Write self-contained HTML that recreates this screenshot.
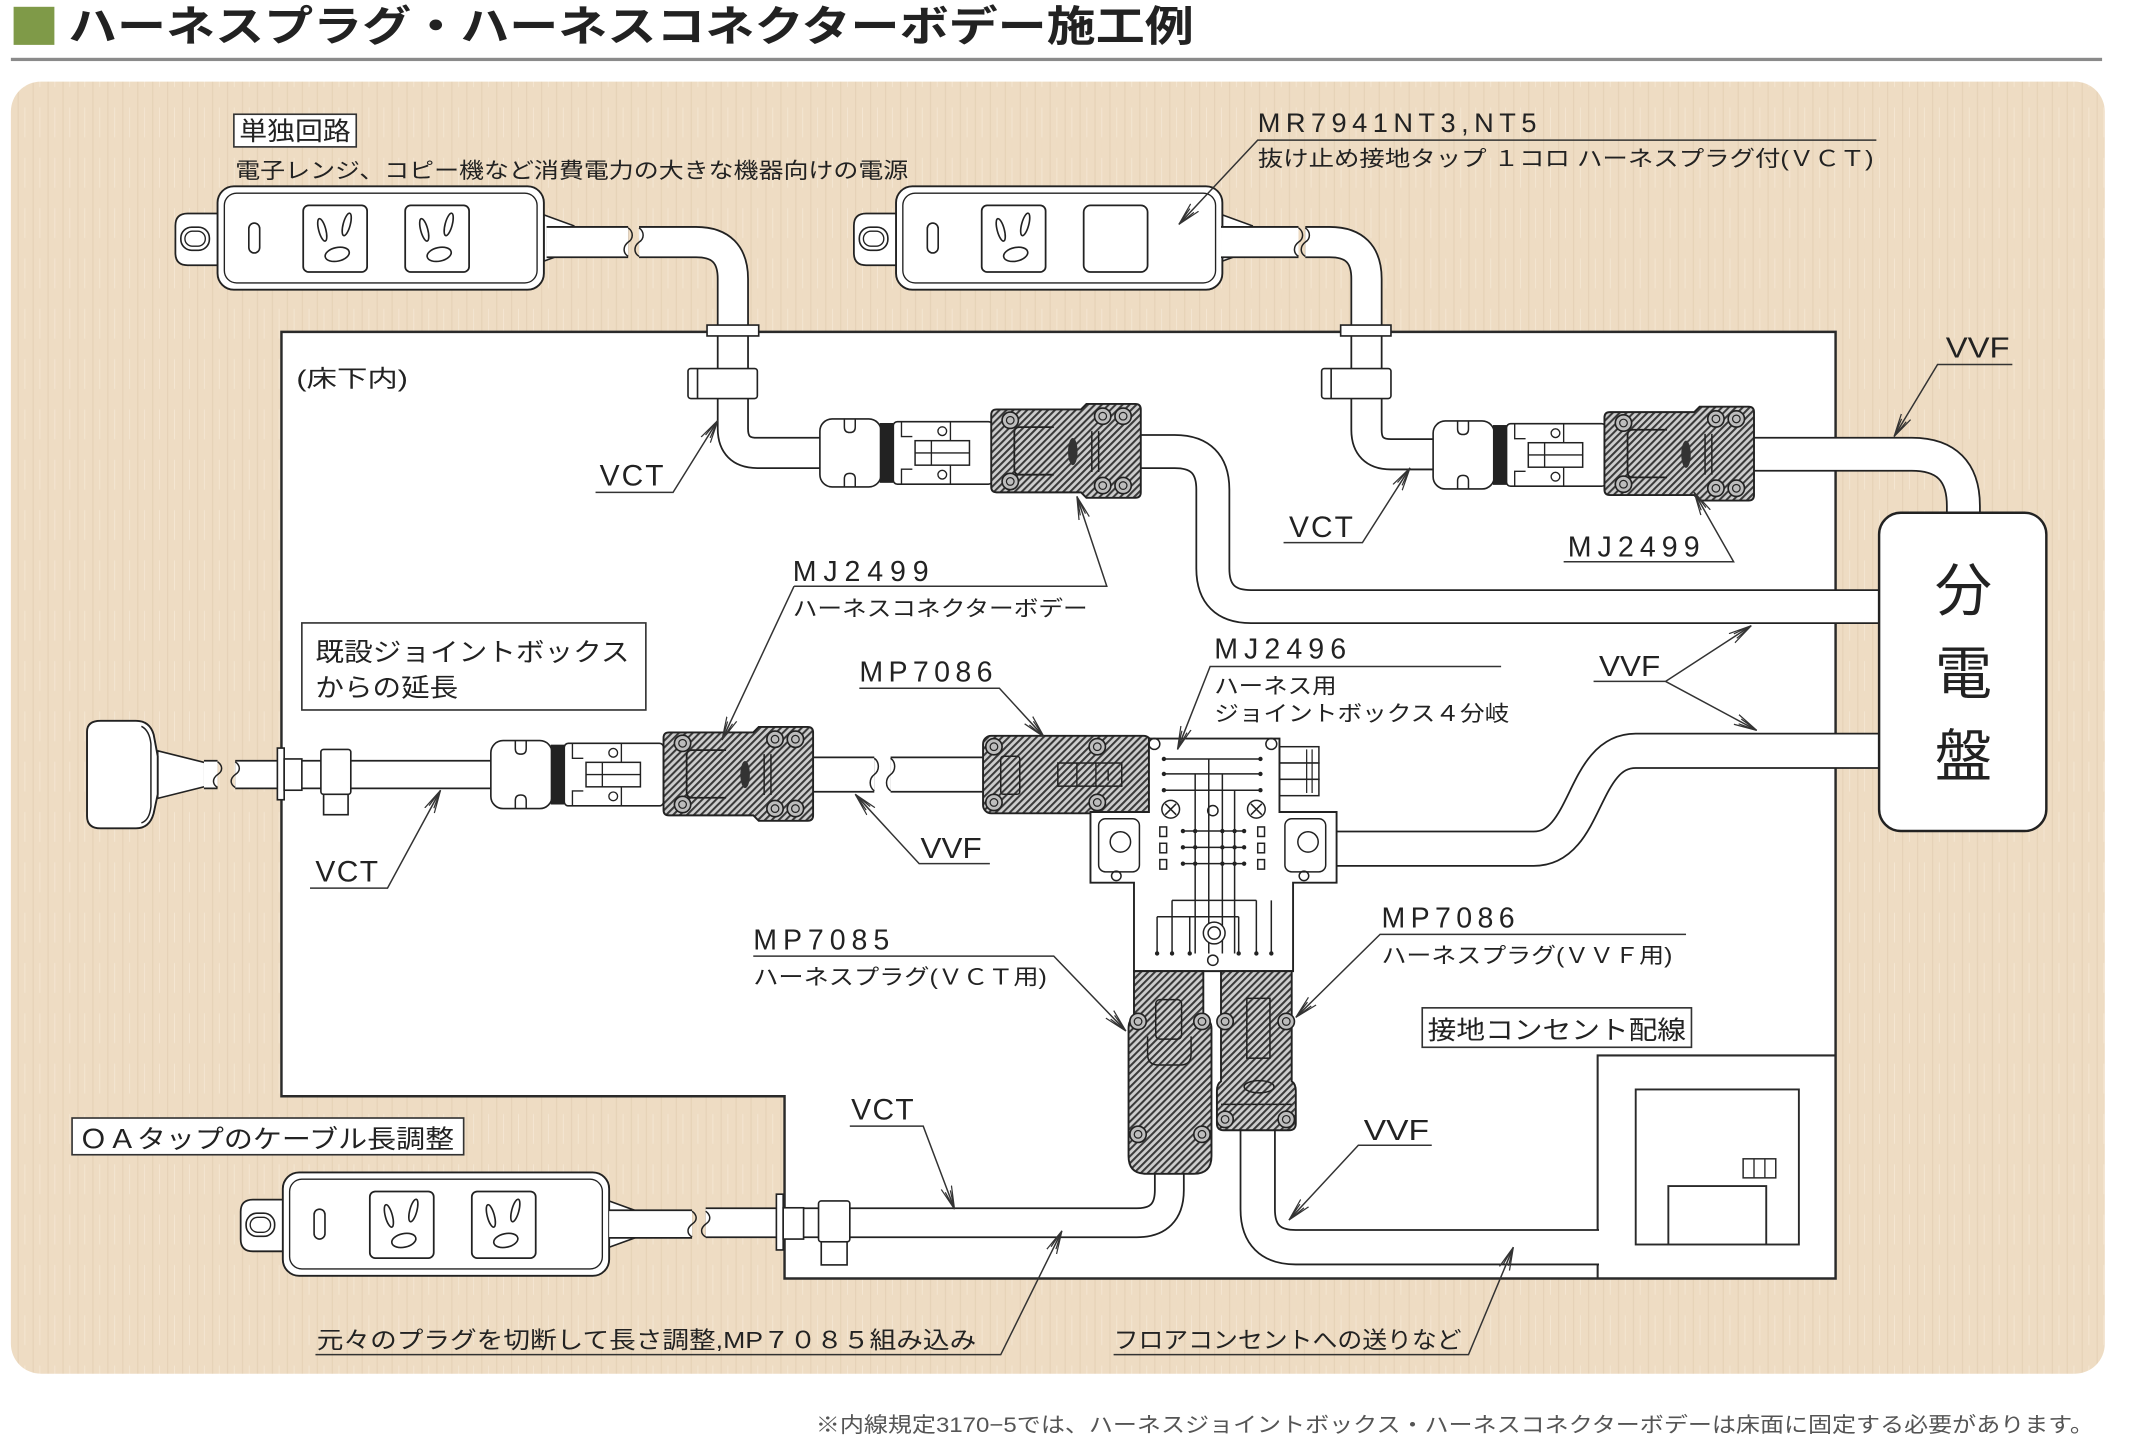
<!DOCTYPE html>
<html><head><meta charset="utf-8">
<style>
html,body{margin:0;padding:0;background:#fff;width:2132px;height:1439px;overflow:hidden}
svg{display:block}
</style></head>
<body>
<svg width="2132" height="1439" viewBox="0 0 1568 1058" preserveAspectRatio="none" xmlns="http://www.w3.org/2000/svg">
<defs>
<pattern id="hatch" width="3.6" height="3.6" patternUnits="userSpaceOnUse" patternTransform="rotate(45)"><rect width="3.6" height="3.6" fill="#cdcdcd"/><rect width="1.5" height="3.6" fill="#3a3a3a"/></pattern>
<pattern id="tex" width="11" height="37" patternUnits="userSpaceOnUse"><rect width="11" height="37" fill="#eedcc3"/><rect x="2" width="0.7" height="37" fill="#e4d0b4"/><rect x="7" y="5" width="0.6" height="22" fill="#f5e8d5"/></pattern>
<marker id="ar" markerWidth="20" markerHeight="12" refX="17" refY="6" orient="auto" markerUnits="userSpaceOnUse"><path d="M0,2 L17,6 L0,10 M3,4 L17,6 L3,8" fill="none" stroke="#333" stroke-width="0.9"/></marker>
<g id="plug">
<rect x="54" y="-23" width="73" height="46" rx="3" fill="#fff" stroke="#222" stroke-width="1.2"/>
<line x1="96" y1="-23" x2="96" y2="23" stroke="#222" stroke-width="1"/>
<circle cx="90" cy="-16" r="3.2" fill="#fff" stroke="#222" stroke-width="1"/>
<circle cx="90" cy="16" r="3.2" fill="#fff" stroke="#222" stroke-width="1"/>
<rect x="70" y="-9" width="40" height="18" fill="#fff" stroke="#222" stroke-width="1.1"/>
<line x1="70" y1="0" x2="110" y2="0" stroke="#222" stroke-width="1"/>
<line x1="82" y1="-9" x2="82" y2="9" stroke="#222" stroke-width="1"/>
<path d="M60,-23 V-12 H68 M60,23 V12 H68" fill="none" stroke="#222" stroke-width="1"/>
<rect x="0" y="-25" width="45" height="50" rx="9" fill="#fff" stroke="#222" stroke-width="1.2"/>
<path d="M18,-25 V-19 Q18,-15 22,-15 Q26,-15 26,-19 V-25 M18,25 V19 Q18,15 22,15 Q26,15 26,19 V25" fill="none" stroke="#222" stroke-width="1.1"/>
<rect x="44" y="-22" width="10" height="44" fill="#222"/>
</g>
<g id="bolt"><circle r="6" fill="#bdbdbd" stroke="#222" stroke-width="1.2"/><circle r="2.8" fill="none" stroke="#222" stroke-width="0.9"/></g>
<g id="conn">
<path d="M0,-27 Q0,-31 4,-31 H66 L70,-35 H106 Q110,-35 110,-31 V30 Q110,34 106,34 H70 L66,30 H4 Q0,30 0,26 Z" fill="url(#hatch)" stroke="#222" stroke-width="1.4"/>
<path d="M46,-18 H21 Q17,-18 17,-14 V13 Q17,17 21,17 H46" fill="none" stroke="#222" stroke-width="1.3"/>
<ellipse cx="60" cy="0" rx="3.5" ry="10" fill="#333"/>
<path d="M74,-15 V15 M79,-15 V15" stroke="#222" stroke-width="1.1"/>
<use href="#bolt" x="14" y="-23"/><use href="#bolt" x="14" y="22"/>
<use href="#bolt" x="82" y="-26"/><use href="#bolt" x="97" y="-26"/>
<use href="#bolt" x="82" y="25"/><use href="#bolt" x="97" y="25"/>
</g>
<g id="strip">
<path d="M2,20 H-22 Q-31,20 -31,29 V49 Q-31,58 -22,58 H2 Z" fill="#fff" stroke="#222" stroke-width="1.3"/>
<rect x="-27" y="30" width="21" height="17" rx="8" fill="none" stroke="#222" stroke-width="1.2"/>
<rect x="-24" y="33" width="15" height="11" rx="5.5" fill="none" stroke="#222" stroke-width="1"/>
<path d="M240,21 L262,29 V47 L240,55 Z" fill="#fff" stroke="#222" stroke-width="1.2"/>
<rect x="0" y="0" width="240" height="76" rx="12" fill="#fff" stroke="#222" stroke-width="1.4"/>
<rect x="5" y="5" width="230" height="66" rx="9" fill="none" stroke="#222" stroke-width="1"/>
<rect x="23" y="27" width="8" height="22" rx="4" fill="none" stroke="#222" stroke-width="1.2"/>
</g>
<g id="outlet">
<rect x="0" y="14" width="47" height="49" rx="4" fill="#fff" stroke="#222" stroke-width="1.3"/>
<ellipse cx="14" cy="32" rx="2.6" ry="8.5" transform="rotate(-15 14 32)" fill="#fff" stroke="#222" stroke-width="1.2"/>
<ellipse cx="32" cy="28" rx="2.6" ry="8.5" transform="rotate(15 32 28)" fill="#fff" stroke="#222" stroke-width="1.2"/>
<ellipse cx="25" cy="50" rx="9" ry="5" transform="rotate(-12 25 50)" fill="#fff" stroke="#222" stroke-width="1.2"/>
</g>
</defs>

<!-- Title -->
<rect x="10" y="5" width="30" height="28" fill="#7f9a48"/>
<text x="50" y="30" font-family="'Liberation Sans','Noto Sans CJK JP',sans-serif" font-size="31" font-weight="bold" fill="#222" textLength="828" lengthAdjust="spacingAndGlyphs">ハーネスプラグ・ハーネスコネクターボデー施工例</text>
<rect x="8" y="42.5" width="1538" height="2.4" fill="#8a8a8a"/>

<!-- beige panel -->
<rect x="8" y="60" width="1540" height="950" rx="22" fill="url(#tex)"/>

<!-- white underfloor region -->
<path d="M207,244 H1350 V940 H577 V806 H207 Z" fill="#fff" stroke="#2a2a2a" stroke-width="1.8"/>
<!-- grounded outlet box -->
<path d="M1175,940 V776 H1350" fill="none" stroke="#2a2a2a" stroke-width="1.5"/>
<rect x="1203" y="801" width="120" height="114" fill="none" stroke="#2a2a2a" stroke-width="1.4"/>
<path d="M1227,915 V872 H1299 V915" fill="none" stroke="#2a2a2a" stroke-width="1.4"/>
<rect x="1282" y="852" width="24" height="14" fill="#fff" stroke="#2a2a2a" stroke-width="1.1"/>
<path d="M1290,852 V866 M1298,852 V866" stroke="#2a2a2a" stroke-width="1"/>

<!-- power strips -->
<use href="#strip" x="160" y="137"/>
<use href="#outlet" x="223" y="137"/><use href="#outlet" x="298" y="137"/>
<use href="#strip" x="659" y="137"/>
<use href="#outlet" x="722" y="137"/>
<rect x="797" y="151" width="47" height="49" rx="5" fill="#fff" stroke="#222" stroke-width="1.3"/>
<use href="#strip" x="208" y="862"/>
<use href="#outlet" x="272" y="862"/><use href="#outlet" x="347" y="862"/>

<!-- wall plug -->
<path d="M116,552 L152,561 V578 L116,587 Z" fill="#fff" stroke="#222" stroke-width="1.2"/>
<path d="M64,538 Q64,530 74,530 H100 Q110,530 113,540 L116,556 V584 L113,598 Q110,609 100,609 H74 Q64,609 64,600 Z" fill="#fff" stroke="#222" stroke-width="1.4"/>
<path d="M104,534 Q110,537 111,547 V593 Q110,603 104,605" fill="none" stroke="#222" stroke-width="1.1"/>

<!-- cables: dark then white -->
<g fill="none" stroke="#222" stroke-linecap="butt">
<path d="M402,178 H462" stroke-width="23.6"/>
<path d="M470,178 H512 Q539,178 539,205 V315 Q539,333 557,333 H606" stroke-width="23.6"/>
<path d="M898,178 H955" stroke-width="23.6"/>
<path d="M960,178 H978 Q1005,178 1005,205 V316 Q1005,334 1023,334 H1056" stroke-width="23.6"/>
<path d="M836,332 H864 Q892,332 892,360 V418 Q892,446 920,446 H1383" stroke-width="25.6"/>
<path d="M1288,334 H1406 Q1444,334 1444,372 V380" stroke-width="25.6"/>
<path d="M981,624 H1128 C1168,624 1163,552 1203,552 H1383" stroke-width="26.6"/>
<path d="M150,569.5 H160" stroke-width="21.6"/>
<path d="M173,569.5 H364" stroke-width="21.6"/>
<path d="M592,569.5 H643" stroke-width="26.6"/>
<path d="M655,569.5 H726" stroke-width="26.6"/>
<path d="M860,858 V875 Q860,899 836,899 H519" stroke-width="22.6"/>
<path d="M448,900 H509" stroke-width="21.6"/>
<path d="M925,828 V889 Q925,917 953,917 H1176" stroke-width="26.6"/>
</g>
<g fill="none" stroke="#fff" stroke-linecap="butt">
<path d="M402,178 H462" stroke-width="21"/>
<path d="M470,178 H512 Q539,178 539,205 V315 Q539,333 557,333 H606" stroke-width="21"/>
<path d="M898,178 H955" stroke-width="21"/>
<path d="M960,178 H978 Q1005,178 1005,205 V316 Q1005,334 1023,334 H1056" stroke-width="21"/>
<path d="M836,332 H864 Q892,332 892,360 V418 Q892,446 920,446 H1383" stroke-width="23"/>
<path d="M1288,334 H1406 Q1444,334 1444,372 V380" stroke-width="23"/>
<path d="M981,624 H1128 C1168,624 1163,552 1203,552 H1383" stroke-width="24"/>
<path d="M150,569.5 H160" stroke-width="19"/>
<path d="M173,569.5 H364" stroke-width="19"/>
<path d="M592,569.5 H643" stroke-width="24"/>
<path d="M655,569.5 H726" stroke-width="24"/>
<path d="M860,858 V875 Q860,899 836,899 H519" stroke-width="20"/>
<path d="M448,900 H509" stroke-width="19"/>
<path d="M925,828 V889 Q925,917 953,917 H1176" stroke-width="24"/>
</g>
<!-- cut ends -->
<g fill="none" stroke="#222" stroke-width="1.1">
<path d="M462,167.5 c4,3 4,8 0,10.5 c-4,3 -4,8 0,10.5"/>
<path d="M470,167.5 c4,3 4,8 0,10.5 c-4,3 -4,8 0,10.5"/>
<path d="M955,167.5 c4,3 4,8 0,10.5 c-4,3 -4,8 0,10.5"/>
<path d="M960,167.5 c4,3 4,8 0,10.5 c-4,3 -4,8 0,10.5"/>
<path d="M160,560 c4,3 4,7 0,9.5 c-4,3 -4,7 0,9.5"/>
<path d="M173,560 c4,3 4,7 0,9.5 c-4,3 -4,7 0,9.5"/>
<path d="M643,557.5 c4,3 4,9 0,12 c-4,3 -4,9 0,12"/>
<path d="M655,557.5 c4,3 4,9 0,12 c-4,3 -4,9 0,12"/>
<path d="M509,890.5 c4,3 4,7 0,9.5 c-4,3 -4,7 0,9.5"/>
<path d="M519,890.5 c4,3 4,7 0,9.5 c-4,3 -4,7 0,9.5"/>
</g>

<!-- floor fittings -->
<g fill="#fff" stroke="#222" stroke-width="1.2">
<rect x="520" y="239" width="38" height="8"/>
<rect x="506" y="271" width="51" height="22" rx="2"/>
<line x1="513" y1="271" x2="513" y2="293"/>
<rect x="986" y="239" width="37" height="8"/>
<rect x="972" y="271" width="51" height="22" rx="2"/>
<line x1="979" y1="271" x2="979" y2="293"/>
<rect x="204" y="550" width="5" height="38"/>
<rect x="209" y="558" width="13" height="23"/>
<rect x="236" y="551" width="22" height="33" rx="2"/>
<rect x="238" y="584" width="18" height="15"/>
<rect x="571" y="878" width="5" height="41"/>
<rect x="576" y="888" width="15" height="23"/>
<rect x="602" y="883" width="23" height="30" rx="2"/>
<rect x="604" y="913" width="19" height="17"/>
</g>

<!-- plugs & connectors -->
<use href="#plug" x="603" y="333"/>
<use href="#conn" x="729" y="332"/>
<use href="#plug" x="1054" y="334.5"/>
<use href="#conn" x="1180" y="334"/>
<use href="#plug" x="361" y="569.5"/>
<use href="#conn" x="488" y="569.5"/>

<!-- MP7086 middle -->
<rect x="723" y="541" width="124" height="57" rx="6" fill="url(#hatch)" stroke="#222" stroke-width="1.4"/>
<rect x="736" y="556" width="14" height="28" rx="2" fill="none" stroke="#222" stroke-width="1.1"/>
<rect x="778" y="561" width="47" height="17" fill="none" stroke="#222" stroke-width="1.1"/>
<path d="M792,561 V578 M806,561 V578 M815,565 V574" stroke="#222" stroke-width="1"/>
<use href="#bolt" x="731" y="549"/><use href="#bolt" x="731" y="590"/>
<use href="#bolt" x="807" y="549"/><use href="#bolt" x="807" y="590"/>

<!-- junction box MJ2496 -->
<rect x="941" y="549" width="29" height="12" fill="#fff" stroke="#222" stroke-width="1.1"/>
<rect x="941" y="561" width="29" height="12" fill="#fff" stroke="#222" stroke-width="1.1"/>
<rect x="941" y="573" width="29" height="12" fill="#fff" stroke="#222" stroke-width="1.1"/>
<path d="M961,551 V583 M965,551 V583" stroke="#222" stroke-width="0.9"/>
<path d="M845,543 H941 V597 H983 V649 H951 V714 H834 V649 H802 V597 H845 Z" fill="#fff" stroke="#222" stroke-width="1.4"/>
<g fill="none" stroke="#222" stroke-width="1.1">
<rect x="808" y="602" width="30" height="39" rx="5"/>
<circle cx="824" cy="619" r="7.5"/>
<rect x="945" y="602" width="30" height="39" rx="5"/>
<circle cx="962" cy="619" r="7.5"/>
<circle cx="821" cy="644" r="3.5"/><circle cx="959" cy="644" r="3.5"/>
<circle cx="849" cy="547" r="4"/><circle cx="935" cy="547" r="4"/>
<circle cx="861" cy="595" r="6.5"/><circle cx="924" cy="595" r="6.5"/>
<path d="M857,591 L865,599 M865,591 L857,599 M920,591 L928,599 M928,591 L920,599"/>
<circle cx="892" cy="596" r="3.8"/>
<path d="M856,558 H927 M856,569 H927 M856,581 H927"/>
<path d="M879,569 V701 M889,558 V701 M899,569 V701 M908,581 V701"/>
<path d="M870,611 H915 M870,623 H915 M870,635 H915"/>
<rect x="853" y="608" width="5" height="7"/><rect x="853" y="620" width="5" height="7"/><rect x="853" y="632" width="5" height="7"/>
<rect x="925" y="608" width="5" height="7"/><rect x="925" y="620" width="5" height="7"/><rect x="925" y="632" width="5" height="7"/>
<path d="M862,662 H924 M851,674 H911"/>
<path d="M851,674 V701 M862,662 V701 M875,674 V701 M911,674 V701 M924,662 V701 M935,662 V701"/>
<circle cx="893" cy="686" r="8" fill="#fff"/><circle cx="893" cy="686" r="4.5"/>
<circle cx="892" cy="706" r="3.8"/>
</g>
<g fill="#222">
<circle cx="856" cy="558" r="1.6"/><circle cx="927" cy="558" r="1.6"/>
<circle cx="856" cy="569" r="1.6"/><circle cx="927" cy="569" r="1.6"/>
<circle cx="856" cy="581" r="1.6"/><circle cx="927" cy="581" r="1.6"/>
<circle cx="870" cy="611" r="1.6"/><circle cx="879" cy="611" r="1.6"/><circle cx="899" cy="611" r="1.6"/><circle cx="908" cy="611" r="1.6"/><circle cx="915" cy="611" r="1.6"/>
<circle cx="870" cy="623" r="1.6"/><circle cx="879" cy="623" r="1.6"/><circle cx="899" cy="623" r="1.6"/><circle cx="908" cy="623" r="1.6"/><circle cx="915" cy="623" r="1.6"/>
<circle cx="870" cy="635" r="1.6"/><circle cx="879" cy="635" r="1.6"/><circle cx="899" cy="635" r="1.6"/><circle cx="908" cy="635" r="1.6"/><circle cx="915" cy="635" r="1.6"/>
<circle cx="851" cy="701" r="1.6"/><circle cx="862" cy="701" r="1.6"/><circle cx="875" cy="701" r="1.6"/><circle cx="911" cy="701" r="1.6"/><circle cx="924" cy="701" r="1.6"/><circle cx="935" cy="701" r="1.6"/>
</g>

<!-- bottom plugs -->
<path d="M834,714 H885 V748 Q891,750 891,756 V850 Q891,863 878,863 H843 Q830,863 830,850 V756 Q830,750 834,748 Z" fill="url(#hatch)" stroke="#222" stroke-width="1.4"/>
<rect x="850" y="735" width="19" height="29" rx="3" fill="none" stroke="#222" stroke-width="1.1"/>
<path d="M844,762 V775 Q844,783 852,783 H868 Q876,783 876,775 V762" fill="none" stroke="#222" stroke-width="1.1"/>
<use href="#bolt" x="837" y="751"/><use href="#bolt" x="884" y="751"/>
<use href="#bolt" x="837" y="834"/><use href="#bolt" x="884" y="834"/>
<path d="M898,714 H950 V795 Q953,797 953,802 V826 Q953,831 948,831 H900 Q895,831 895,826 V802 Q895,797 898,795 Z" fill="url(#hatch)" stroke="#222" stroke-width="1.4"/>
<rect x="917" y="734" width="17" height="44" fill="none" stroke="#222" stroke-width="1.1"/>
<ellipse cx="926" cy="799" rx="11" ry="4.5" fill="none" stroke="#222" stroke-width="1.1"/>
<line x1="898" y1="812" x2="950" y2="812" stroke="#222" stroke-width="1.1"/>
<use href="#bolt" x="901" y="751"/><use href="#bolt" x="946" y="751"/>
<use href="#bolt" x="901" y="823"/><use href="#bolt" x="946" y="823"/>

<!-- distribution board -->
<rect x="1382" y="377" width="123" height="234" rx="16" fill="#fff" stroke="#222" stroke-width="1.8"/>
<g font-family="'Liberation Sans','Noto Sans CJK JP',sans-serif" font-size="42" fill="#222" text-anchor="middle">
<text x="1444" y="449">分</text>
<text x="1444" y="510">電</text>
<text x="1444" y="571">盤</text>
</g>

<!-- label boxes -->
<rect x="172" y="84" width="90" height="24" fill="#fff" stroke="#333" stroke-width="1.2"/>
<rect x="222" y="458" width="253" height="64" fill="#fff" stroke="#333" stroke-width="1.2"/>
<rect x="1046" y="741" width="198" height="29" fill="#fff" stroke="#333" stroke-width="1.2"/>
<rect x="53" y="822" width="288" height="27" fill="#fff" stroke="#333" stroke-width="1.2"/>

<!-- leaders -->
<g fill="none" stroke="#333" stroke-width="1.1" marker-end="url(#ar)">
<path d="M438,362 H495 L528,309"/>
<path d="M944,399 H1002 L1037,344"/>
<path d="M1150,413 H1275 L1246,362"/>
<path d="M1480,268 H1425 L1393,321"/>
<path d="M584,431 H814 L792,365"/>
<path d="M584,431 L531,544"/>
<path d="M1380,103 H925 L867,165"/>
<path d="M1104,490 H890 L866,551"/>
<path d="M1172,501 H1225 L1288,460"/>
<path d="M1225,501 L1292,537"/>
<path d="M632,506 H735 L768,542"/>
<path d="M228,653 H285 L324,581"/>
<path d="M728,635 H676 L629,584"/>
<path d="M554,703 H775 L828,758"/>
<path d="M1240,687 H1015 L953,748"/>
<path d="M625,828 H679 L702,889"/>
<path d="M1053,842 H999 L948,897"/>
<path d="M232,996 H736 L781,905"/>
<path d="M819,996 H1080 L1113,917"/>
</g>

<!-- texts -->
<g font-family="'Liberation Sans','Noto Sans CJK JP',sans-serif" fill="#222">
<text x="176" y="103" font-size="19" textLength="82" lengthAdjust="spacingAndGlyphs">単独回路</text>
<text x="173" y="131" font-size="16" textLength="495" lengthAdjust="spacingAndGlyphs">電子レンジ、コピー機など消費電力の大きな機器向けの電源</text>
<text x="925" y="97" font-size="20" textLength="205" lengthAdjust="spacing">MR7941NT3,NT5</text>
<text x="925" y="122" font-size="16" textLength="453" lengthAdjust="spacingAndGlyphs">抜け止め接地タップ １コロ ハーネスプラグ付(ＶＣＴ)</text>
<text x="218" y="284" font-size="17" textLength="82" lengthAdjust="spacingAndGlyphs">(床下内)</text>
<text x="441" y="357" font-size="22" textLength="47" lengthAdjust="spacing">VCT</text>
<text x="948" y="395" font-size="22" textLength="47" lengthAdjust="spacing">VCT</text>
<text x="1153" y="409" font-size="21" textLength="97" lengthAdjust="spacing">MJ2499</text>
<text x="1431" y="263" font-size="21" textLength="47" lengthAdjust="spacingAndGlyphs">VVF</text>
<text x="583" y="427" font-size="21" textLength="100" lengthAdjust="spacing">MJ2499</text>
<text x="583" y="453" font-size="16" textLength="217" lengthAdjust="spacingAndGlyphs">ハーネスコネクターボデー</text>
<text x="232" y="486" font-size="19" textLength="231" lengthAdjust="spacingAndGlyphs">既設ジョイントボックス</text>
<text x="232" y="512" font-size="19" textLength="105" lengthAdjust="spacingAndGlyphs">からの延長</text>
<text x="893" y="484" font-size="21" textLength="97" lengthAdjust="spacing">MJ2496</text>
<text x="893" y="510" font-size="16" textLength="90" lengthAdjust="spacingAndGlyphs">ハーネス用</text>
<text x="893" y="530" font-size="16" textLength="217" lengthAdjust="spacingAndGlyphs">ジョイントボックス４分岐</text>
<text x="1176" y="497" font-size="21" textLength="45" lengthAdjust="spacingAndGlyphs">VVF</text>
<text x="632" y="501" font-size="21" textLength="98" lengthAdjust="spacing">MP7086</text>
<text x="232" y="648" font-size="22" textLength="46" lengthAdjust="spacing">VCT</text>
<text x="677" y="631" font-size="21" textLength="45" lengthAdjust="spacingAndGlyphs">VVF</text>
<text x="554" y="698" font-size="21" textLength="100" lengthAdjust="spacing">MP7085</text>
<text x="554" y="724" font-size="16" textLength="216" lengthAdjust="spacingAndGlyphs">ハーネスプラグ(ＶＣＴ用)</text>
<text x="1016" y="682" font-size="21" textLength="98" lengthAdjust="spacing">MP7086</text>
<text x="1016" y="708" font-size="16" textLength="214" lengthAdjust="spacingAndGlyphs">ハーネスプラグ(ＶＶＦ用)</text>
<text x="1050" y="764" font-size="19" textLength="190" lengthAdjust="spacingAndGlyphs">接地コンセント配線</text>
<text x="626" y="823" font-size="22" textLength="46" lengthAdjust="spacing">VCT</text>
<text x="1003" y="838" font-size="21" textLength="48" lengthAdjust="spacingAndGlyphs">VVF</text>
<text x="58" y="844" font-size="19" textLength="276" lengthAdjust="spacingAndGlyphs">ＯＡタップのケーブル長調整</text>
<text x="233" y="991" font-size="17" textLength="485" lengthAdjust="spacingAndGlyphs">元々のプラグを切断して長さ調整,MP７０８５組み込み</text>
<text x="819" y="991" font-size="17" textLength="256" lengthAdjust="spacingAndGlyphs">フロアコンセントへの送りなど</text>
<text x="600" y="1053" font-size="15.5" fill="#555" textLength="940" lengthAdjust="spacingAndGlyphs">※内線規定3170−5では、ハーネスジョイントボックス・ハーネスコネクターボデーは床面に固定する必要があります。</text>
</g>
</svg>
</body></html>
